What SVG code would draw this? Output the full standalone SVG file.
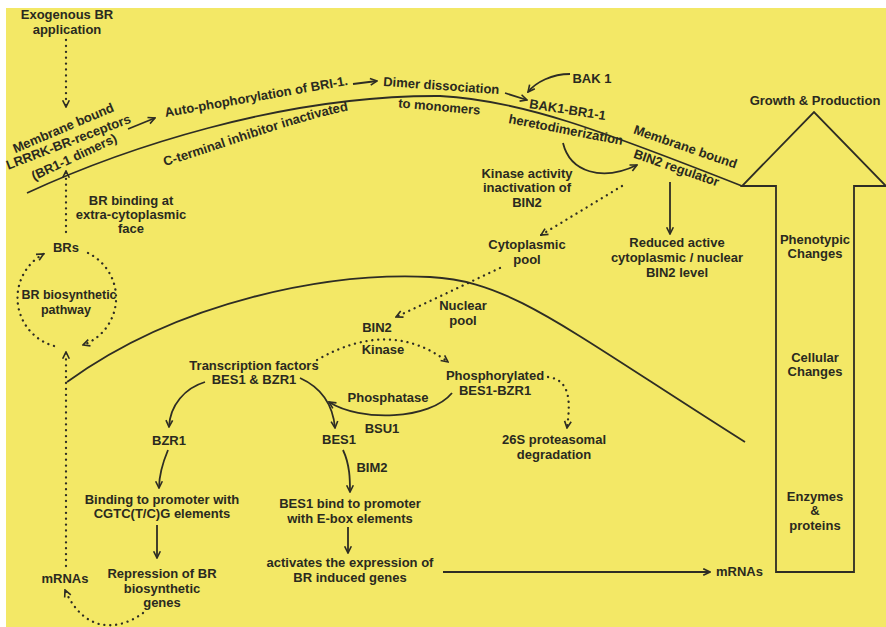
<svg xmlns="http://www.w3.org/2000/svg" width="886" height="627" viewBox="0 0 886 627">
<style>
text{font-family:"Liberation Sans",Arial,sans-serif;font-weight:bold;font-size:13px;fill:#2a2a20;text-anchor:middle}
.sm{font-size:12.5px}
.ln{fill:none;stroke:#2e2d24;stroke-width:1.8}
.dot{fill:none;stroke:#2e2d24;stroke-width:2.3;stroke-linecap:round;stroke-dasharray:0.1 5.8}
</style>
<defs>
<marker id="ah" viewBox="0 0 10 10" refX="8.5" refY="5" markerWidth="9" markerHeight="9" markerUnits="userSpaceOnUse" orient="auto">
<path d="M1,1.3 L8.5,5 L1,8.7" fill="none" stroke="#2e2d24" stroke-width="1.8"/>
</marker>
<path id="ctermPath" d="M165,166 C220,150 300,118 362,108"/>
</defs>
<rect x="0" y="0" width="886" height="627" fill="#ffffff"/>
<rect x="6" y="8" width="880" height="619" fill="#f3e866"/>

<g id="connectors">
<path class="ln" d="M27,193 C120,150 280,95 440,96 C520,100 600,130 742,186"/>
<path class="ln" d="M67,382 C180,300 330,272 430,277 C510,281 560,325 745,442"/>
<path class="dot" d="M66,40 L66,107" marker-end="url(#ah)"/>
<path class="dot" d="M66,232 L66,171" marker-end="url(#ah)"/>
<path class="ln" d="M128,129 L155,118" marker-end="url(#ah)"/>
<path class="ln" d="M353,84 L377,81" marker-end="url(#ah)"/>
<path class="ln" d="M505,93 L527,100" marker-end="url(#ah)"/>
<path class="ln" d="M570,74 C552,74 536,82 528,92" marker-end="url(#ah)"/>
<path class="ln" d="M563,143 C570,172 602,182 637,165" marker-end="url(#ah)"/>
<path class="dot" d="M622,186 L541,235" marker-end="url(#ah)"/>
<path class="ln" d="M670,182 L670,234" marker-end="url(#ah)"/>
<path class="dot" d="M54,346 A50,50 0 0 1 43.5,254" marker-end="url(#ah)"/>
<path class="dot" d="M88,253 A50,50 0 0 1 83,345" marker-end="url(#ah)"/>
<path class="dot" d="M66,566 L66,352" marker-end="url(#ah)"/>
<path class="dot" d="M500,268 L396,317" marker-end="url(#ah)"/>
<path class="dot" d="M317,360 Q390,318 448,362" marker-end="url(#ah)"/>
<path class="dot" d="M548,377 C572,380 570,405 567,428" marker-end="url(#ah)"/>
<path class="ln" d="M452,393 C430,420 360,422 329,402" marker-end="url(#ah)"/>
<path class="ln" d="M300,378 C322,388 333,405 335,428" marker-end="url(#ah)"/>
<path class="ln" d="M205,382 C185,388 170,405 169,427" marker-end="url(#ah)"/>
<path class="ln" d="M168,450 C163,462 159,475 159,488" marker-end="url(#ah)"/>
<path class="ln" d="M157,525 L157,558" marker-end="url(#ah)"/>
<path class="dot" d="M143,613 C120,630 85,635 65,590" marker-end="url(#ah)"/>
<path class="ln" d="M343,450 C350,465 350,480 350,492" marker-end="url(#ah)"/>
<path class="ln" d="M348,527 L348,553" marker-end="url(#ah)"/>
<path class="ln" d="M443,572 L710,572" marker-end="url(#ah)"/>
</g>

<g id="exogenous"><text x="67" y="19">Exogenous BR</text><text x="67" y="34">application</text></g>
<g id="receptors">
<text x="65" y="132" transform="rotate(-23 65 132)">Membrane bound</text>
<text x="70" y="146" transform="rotate(-21 70 146)">LRRRK-BR-receptors</text>
<text x="76" y="161" transform="rotate(-25 76 161)">(BR1-1 dimers)</text>
</g>
<g id="autophos"><text x="257" y="101" transform="rotate(-10 257 101)">Auto-phophorylation of BRI-1.</text></g>
<g id="cterminal"><text><textPath href="#ctermPath" startOffset="0" style="text-anchor:start">C-terminal inhibitor inactivated</textPath></text></g>
<g id="dimer">
<text x="441" y="90" transform="rotate(4 441 90)">Dimer dissociation</text>
<text x="439" y="111" transform="rotate(5 439 111)">to monomers</text>
</g>
<g id="bak1"><text x="592" y="83">BAK 1</text></g>
<g id="bak1br1">
<text x="567" y="114" transform="rotate(9 567 114)">BAK1-BR1-1</text>
<text x="565" y="134" transform="rotate(11 565 134)">heretodimerization</text>
</g>
<g id="bin2reg">
<text x="684" y="151" transform="rotate(19 684 151)">Membrane bound</text>
<text x="675" y="172" transform="rotate(19 675 172)">BIN2 regulator</text>
</g>
<g id="kinaseInact"><text x="527" y="178">Kinase activity</text><text x="527" y="192">inactivation of</text><text x="527" y="207">BIN2</text></g>
<g id="cytoPool"><text x="527" y="249">Cytoplasmic</text><text x="527" y="264">pool</text></g>
<g id="reduced"><text x="677" y="247">Reduced active</text><text x="677" y="262">cytoplasmic / nuclear</text><text x="677" y="277">BIN2 level</text></g>
<g id="growth">
<polygon points="776,572 854,572 854,186 886,186 814,112 742,186 776,186" fill="none" stroke="#2e2d24" stroke-width="1.8"/>
<text x="815" y="105">Growth &amp; Production</text>
<text x="815" y="244">Phenotypic</text><text x="815" y="258">Changes</text>
<text x="815" y="362">Cellular</text><text x="815" y="376">Changes</text>
<text x="815" y="501">Enzymes</text><text x="815" y="515">&amp;</text><text x="815" y="530">proteins</text>
</g>
<g id="brBinding"><text x="131" y="205">BR binding at</text><text x="131" y="219">extra-cytoplasmic</text><text x="131" y="233">face</text></g>
<g id="brs"><text x="66" y="252">BRs</text></g>
<g id="biosynthetic"><text class="sm" x="69" y="299">BR biosynthetic</text><text class="sm" x="66" y="314">pathway</text></g>
<g id="nuclearPool"><text x="463" y="310">Nuclear</text><text x="463" y="325">pool</text></g>
<g id="bin2"><text x="377" y="332">BIN2</text></g>
<g id="kinase"><text x="383" y="354">Kinase</text></g>
<g id="tf"><text x="254" y="370">Transcription factors</text><text x="254" y="384">BES1 &amp; BZR1</text></g>
<g id="phosphorylated"><text x="495" y="380">Phosphorylated</text><text x="495" y="395">BES1-BZR1</text></g>
<g id="phosphatase"><text x="388" y="402">Phosphatase</text><text x="382" y="433">BSU1</text></g>
<g id="bes1"><text x="339" y="444">BES1</text></g>
<g id="degradation"><text x="554" y="444">26S proteasomal</text><text x="554" y="459">degradation</text></g>
<g id="bzr1"><text x="169" y="445">BZR1</text></g>
<g id="binding"><text x="162" y="504">Binding to promoter with</text><text x="162" y="518">CGTC(T/C)G elements</text></g>
<g id="repression"><text x="162" y="578">Repression of BR</text><text x="162" y="593">biosynthetic</text><text x="162" y="607">genes</text></g>
<g id="mrnaLeft"><text x="65" y="583">mRNAs</text></g>
<g id="bim2"><text x="372" y="472">BIM2</text></g>
<g id="bes1bind"><text x="350" y="508">BES1 bind to promoter</text><text x="350" y="523">with E-box elements</text></g>
<g id="activates"><text x="350" y="567">activates the expression of</text><text x="350" y="582">BR induced genes</text></g>
<g id="mrnaRight"><text x="716" y="576" style="text-anchor:start">mRNAs</text></g>
</svg>
